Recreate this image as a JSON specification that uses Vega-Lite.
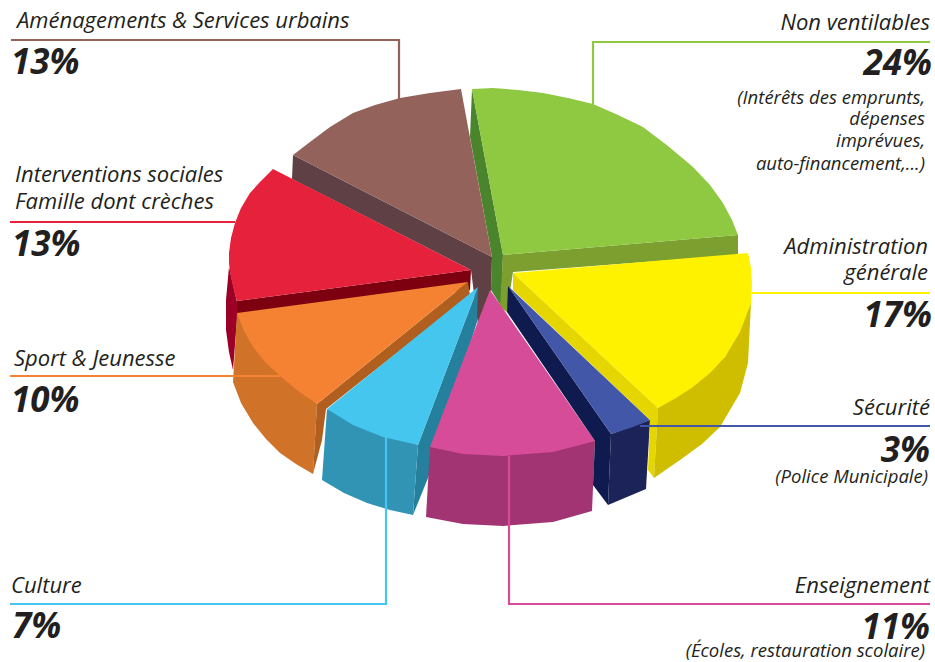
{"$schema":"https://vega.github.io/schema/vega-lite/v6.json","width":935,"height":662,"padding":0,"autosize":{"type":"none"},"background":"white","config":{"view":{"stroke":null}},
"datasets":{"faces":[
{"shape":"a1","n":0,"x":472,"y":89},{"shape":"a1","n":1,"x":470,"y":137},{"shape":"a1","n":2,"x":492,"y":257},{"shape":"a1","n":3,"x":491,"y":290},{"shape":"a1","n":4,"x":501,"y":306},{"shape":"a1","n":5,"x":503,"y":255},
{"shape":"a2","n":0,"x":503,"y":255},{"shape":"a2","n":1,"x":738,"y":235},{"shape":"a2","n":2,"x":738,"y":255},{"shape":"a2","n":3,"x":513,"y":272},{"shape":"a2","n":4,"x":507,"y":312},{"shape":"a2","n":5,"x":500,"y":307},
{"shape":"a3","n":0,"x":472,"y":89},{"shape":"a3","n":1,"x":493,"y":88},{"shape":"a3","n":2,"x":518,"y":90},{"shape":"a3","n":3,"x":543,"y":93},{"shape":"a3","n":4,"x":568,"y":98},{"shape":"a3","n":5,"x":593,"y":104},{"shape":"a3","n":6,"x":618,"y":115},{"shape":"a3","n":7,"x":643,"y":127},{"shape":"a3","n":8,"x":668,"y":146},{"shape":"a3","n":9,"x":693,"y":167},{"shape":"a3","n":10,"x":710,"y":185},{"shape":"a3","n":11,"x":723,"y":203},{"shape":"a3","n":12,"x":732,"y":220},{"shape":"a3","n":13,"x":738,"y":235},{"shape":"a3","n":14,"x":503,"y":255},
{"shape":"b1","n":0,"x":293,"y":155},{"shape":"b1","n":1,"x":292,"y":179},{"shape":"b1","n":2,"x":471,"y":270},{"shape":"b1","n":3,"x":478,"y":325},{"shape":"b1","n":4,"x":491,"y":290},{"shape":"b1","n":5,"x":492,"y":257},
{"shape":"b2","n":0,"x":492,"y":257},{"shape":"b2","n":1,"x":461,"y":89},{"shape":"b2","n":2,"x":430,"y":93},{"shape":"b2","n":3,"x":400,"y":98},{"shape":"b2","n":4,"x":375,"y":105},{"shape":"b2","n":5,"x":353,"y":113},{"shape":"b2","n":6,"x":330,"y":127},{"shape":"b2","n":7,"x":310,"y":142},{"shape":"b2","n":8,"x":293,"y":155},
{"shape":"c1","n":0,"x":229,"y":267},{"shape":"c1","n":1,"x":226,"y":300},{"shape":"c1","n":2,"x":226,"y":330},{"shape":"c1","n":3,"x":229,"y":352},{"shape":"c1","n":4,"x":233,"y":370},{"shape":"c1","n":5,"x":237,"y":320},{"shape":"c1","n":6,"x":237,"y":302},
{"shape":"c2","n":0,"x":237,"y":301},{"shape":"c2","n":1,"x":471,"y":270},{"shape":"c2","n":2,"x":470,"y":290},{"shape":"c2","n":3,"x":237,"y":314},
{"shape":"c3","n":0,"x":471,"y":270},{"shape":"c3","n":1,"x":273,"y":169},{"shape":"c3","n":2,"x":260,"y":182},{"shape":"c3","n":3,"x":250,"y":193},{"shape":"c3","n":4,"x":241,"y":208},{"shape":"c3","n":5,"x":235,"y":223},{"shape":"c3","n":6,"x":231,"y":238},{"shape":"c3","n":7,"x":229,"y":253},{"shape":"c3","n":8,"x":229,"y":263},{"shape":"c3","n":9,"x":230,"y":272},{"shape":"c3","n":10,"x":233,"y":287},{"shape":"c3","n":11,"x":237,"y":301},
{"shape":"d1","n":0,"x":237,"y":313},{"shape":"d1","n":1,"x":233,"y":382},{"shape":"d1","n":2,"x":241,"y":403},{"shape":"d1","n":3,"x":253,"y":423},{"shape":"d1","n":4,"x":266,"y":439},{"shape":"d1","n":5,"x":280,"y":453},{"shape":"d1","n":6,"x":296,"y":464},{"shape":"d1","n":7,"x":313,"y":474},{"shape":"d1","n":8,"x":317,"y":404},
{"shape":"d2","n":0,"x":468,"y":282},{"shape":"d2","n":1,"x":470,"y":295},{"shape":"d2","n":2,"x":326,"y":409},{"shape":"d2","n":3,"x":322,"y":440},{"shape":"d2","n":4,"x":313,"y":474},{"shape":"d2","n":5,"x":317,"y":404},
{"shape":"d3","n":0,"x":468,"y":282},{"shape":"d3","n":1,"x":237,"y":313},{"shape":"d3","n":2,"x":244,"y":331},{"shape":"d3","n":3,"x":253,"y":347},{"shape":"d3","n":4,"x":265,"y":362},{"shape":"d3","n":5,"x":280,"y":376},{"shape":"d3","n":6,"x":298,"y":391},{"shape":"d3","n":7,"x":317,"y":404},
{"shape":"e1","n":0,"x":478,"y":287},{"shape":"e1","n":1,"x":418,"y":445},{"shape":"e1","n":2,"x":413,"y":515},{"shape":"e1","n":3,"x":428,"y":478},{"shape":"e1","n":4,"x":477,"y":322},
{"shape":"e2","n":0,"x":327,"y":409},{"shape":"e2","n":1,"x":322,"y":480},{"shape":"e2","n":2,"x":344,"y":493},{"shape":"e2","n":3,"x":367,"y":503},{"shape":"e2","n":4,"x":390,"y":510},{"shape":"e2","n":5,"x":413,"y":515},{"shape":"e2","n":6,"x":418,"y":445},
{"shape":"e3","n":0,"x":478,"y":287},{"shape":"e3","n":1,"x":327,"y":409},{"shape":"e3","n":2,"x":353,"y":425},{"shape":"e3","n":3,"x":383,"y":437},{"shape":"e3","n":4,"x":418,"y":445},
{"shape":"f1","n":0,"x":430,"y":447},{"shape":"f1","n":1,"x":426,"y":517},{"shape":"f1","n":2,"x":463,"y":524},{"shape":"f1","n":3,"x":503,"y":526},{"shape":"f1","n":4,"x":553,"y":522},{"shape":"f1","n":5,"x":592,"y":511},{"shape":"f1","n":6,"x":595,"y":441},
{"shape":"f2","n":0,"x":490,"y":290},{"shape":"f2","n":1,"x":430,"y":447},{"shape":"f2","n":2,"x":463,"y":454},{"shape":"f2","n":3,"x":503,"y":456},{"shape":"f2","n":4,"x":553,"y":452},{"shape":"f2","n":5,"x":595,"y":441},
{"shape":"g1","n":0,"x":508,"y":286},{"shape":"g1","n":1,"x":611,"y":434},{"shape":"g1","n":2,"x":608,"y":505},{"shape":"g1","n":3,"x":593,"y":485},{"shape":"g1","n":4,"x":595,"y":441},{"shape":"g1","n":5,"x":507,"y":312},
{"shape":"g2","n":0,"x":611,"y":434},{"shape":"g2","n":1,"x":650,"y":420},{"shape":"g2","n":2,"x":646,"y":489},{"shape":"g2","n":3,"x":608,"y":505},
{"shape":"g3","n":0,"x":508,"y":286},{"shape":"g3","n":1,"x":650,"y":420},{"shape":"g3","n":2,"x":633,"y":427},{"shape":"g3","n":3,"x":611,"y":434},
{"shape":"h1","n":0,"x":513,"y":273},{"shape":"h1","n":1,"x":658,"y":408},{"shape":"h1","n":2,"x":654,"y":478},{"shape":"h1","n":3,"x":648,"y":470},{"shape":"h1","n":4,"x":650,"y":420},{"shape":"h1","n":5,"x":513,"y":290},
{"shape":"h2","n":0,"x":658,"y":408},{"shape":"h2","n":1,"x":654,"y":478},{"shape":"h2","n":2,"x":680,"y":460},{"shape":"h2","n":3,"x":702,"y":444},{"shape":"h2","n":4,"x":720,"y":427},{"shape":"h2","n":5,"x":740,"y":393},{"shape":"h2","n":6,"x":748,"y":363},{"shape":"h2","n":7,"x":751,"y":303},{"shape":"h2","n":8,"x":725,"y":357},
{"shape":"h3","n":0,"x":513,"y":273},{"shape":"h3","n":1,"x":748,"y":253},{"shape":"h3","n":2,"x":751,"y":268},{"shape":"h3","n":3,"x":752,"y":285},{"shape":"h3","n":4,"x":751,"y":303},{"shape":"h3","n":5,"x":740,"y":332},{"shape":"h3","n":6,"x":725,"y":357},{"shape":"h3","n":7,"x":710,"y":373},{"shape":"h3","n":8,"x":693,"y":387},{"shape":"h3","n":9,"x":676,"y":398},{"shape":"h3","n":10,"x":658,"y":408}
],
"leaders":[
{"line":"brown","n":0,"x":11,"y":40},{"line":"brown","n":1,"x":399,"y":40},{"line":"brown","n":2,"x":399,"y":99},
{"line":"green","n":0,"x":593,"y":104},{"line":"green","n":1,"x":593,"y":42},{"line":"green","n":2,"x":930,"y":42},
{"line":"yellow","n":0,"x":752,"y":293},{"line":"yellow","n":1,"x":930,"y":293},
{"line":"blue","n":0,"x":640,"y":426},{"line":"blue","n":1,"x":930,"y":426},
{"line":"magenta","n":0,"x":509,"y":456},{"line":"magenta","n":1,"x":509,"y":604},{"line":"magenta","n":2,"x":930,"y":604},
{"line":"cyan","n":0,"x":386,"y":437},{"line":"cyan","n":1,"x":386,"y":604},{"line":"cyan","n":2,"x":10,"y":604},
{"line":"orange","n":0,"x":10,"y":376},{"line":"orange","n":1,"x":280,"y":376},
{"line":"red","n":0,"x":10,"y":222},{"line":"red","n":1,"x":235,"y":222}
],
"labels":[
{"text":"Aménagements & Services urbains","x":17,"y":28,"side":"left","kind":"label"},
{"text":"13%","x":11,"y":74,"side":"left","kind":"pct"},
{"text":"Interventions sociales","x":15,"y":182,"side":"left","kind":"label"},
{"text":"Famille dont crèches","x":15,"y":209,"side":"left","kind":"label"},
{"text":"13%","x":12,"y":256,"side":"left","kind":"pct"},
{"text":"Sport & Jeunesse","x":14,"y":366,"side":"left","kind":"label"},
{"text":"10%","x":11,"y":412,"side":"left","kind":"pct"},
{"text":"Culture","x":11,"y":593,"side":"left","kind":"label"},
{"text":"7%","x":12,"y":638,"side":"left","kind":"pct"},
{"text":"Non ventilables","x":930,"y":30,"side":"right","kind":"label"},
{"text":"24%","x":932,"y":75,"side":"right","kind":"pct"},
{"text":"(Intérêts des emprunts,","x":925,"y":104,"side":"right","kind":"note"},
{"text":"dépenses","x":925,"y":125,"side":"right","kind":"note"},
{"text":"imprévues,","x":925,"y":147,"side":"right","kind":"note"},
{"text":"auto-financement,...)","x":925,"y":170,"side":"right","kind":"note"},
{"text":"Administration","x":928,"y":254,"side":"right","kind":"label"},
{"text":"générale","x":928,"y":280,"side":"right","kind":"label"},
{"text":"17%","x":932,"y":327,"side":"right","kind":"pct"},
{"text":"Sécurité","x":930,"y":415,"side":"right","kind":"label"},
{"text":"3%","x":930,"y":462,"side":"right","kind":"pct"},
{"text":"(Police Municipale)","x":928,"y":483,"side":"right","kind":"note"},
{"text":"Enseignement","x":930,"y":593,"side":"right","kind":"label"},
{"text":"11%","x":930,"y":639,"side":"right","kind":"pct"},
{"text":"(Écoles, restauration scolaire)","x":925,"y":657,"side":"right","kind":"note"}
]},
"resolve":{"scale":{"color":"independent"}},
"layer":[
{"data":{"name":"faces"},"mark":{"type":"line","filled":true,"interpolate":"linear-closed","strokeWidth":0},
"encoding":{"x":{"field":"x","type":"quantitative","scale":{"domain":[0,935]},"axis":null},"y":{"field":"y","type":"quantitative","scale":{"domain":[662,0]},"axis":null},"order":{"field":"n","type":"quantitative"},
"color":{"field":"shape","type":"nominal","legend":null,"scale":{"domain":["a1","a2","a3","b1","b2","c1","c2","c3","d1","d2","d3","e1","e2","e3","f1","f2","g1","g2","g3","h1","h2","h3"],"range":["#4a852d","#7c9f30","#8fc841","#5f4045","#93625a","#9c0026","#7d0010","#e6213c","#d07228","#b05f1f","#f58233","#24809c","#3294b5","#45c6ee","#a33473","#d64c99","#0f1a4e","#1c2359","#4357a8","#e5d500","#cfbe00","#fff200"]}}}},
{"data":{"name":"leaders"},"mark":{"type":"line","strokeWidth":2.2,"interpolate":"linear"},
"encoding":{"x":{"field":"x","type":"quantitative","scale":{"domain":[0,935]},"axis":null},"y":{"field":"y","type":"quantitative","scale":{"domain":[662,0]},"axis":null},"order":{"field":"n","type":"quantitative"},
"color":{"field":"line","type":"nominal","legend":null,"scale":{"domain":["brown","green","yellow","blue","magenta","cyan","orange","red"],"range":["#93625a","#8fc841","#fff200","#4357a8","#d64c99","#45c6ee","#f58233","#e6213c"]}}}},
{"data":{"name":"labels"},"transform":[{"filter":"datum.side=='left' && datum.kind=='label'"}],"mark":{"type":"text","align":"left","baseline":"alphabetic","font":"Open Sans","fontStyle":"italic","fontSize":22,"color":"#231f20"},
"encoding":{"x":{"field":"x","type":"quantitative","scale":{"domain":[0,935]},"axis":null},"y":{"field":"y","type":"quantitative","scale":{"domain":[662,0]},"axis":null},"text":{"field":"text"}}},
{"data":{"name":"labels"},"transform":[{"filter":"datum.side=='right' && datum.kind=='label'"}],"mark":{"type":"text","align":"right","baseline":"alphabetic","font":"Open Sans","fontStyle":"italic","fontSize":22,"color":"#231f20"},
"encoding":{"x":{"field":"x","type":"quantitative","scale":{"domain":[0,935]},"axis":null},"y":{"field":"y","type":"quantitative","scale":{"domain":[662,0]},"axis":null},"text":{"field":"text"}}},
{"data":{"name":"labels"},"transform":[{"filter":"datum.side=='left' && datum.kind=='pct'"}],"mark":{"type":"text","align":"left","baseline":"alphabetic","font":"Open Sans","fontStyle":"italic","fontWeight":"bold","fontSize":35,"color":"#231f20"},
"encoding":{"x":{"field":"x","type":"quantitative","scale":{"domain":[0,935]},"axis":null},"y":{"field":"y","type":"quantitative","scale":{"domain":[662,0]},"axis":null},"text":{"field":"text"}}},
{"data":{"name":"labels"},"transform":[{"filter":"datum.side=='right' && datum.kind=='pct'"}],"mark":{"type":"text","align":"right","baseline":"alphabetic","font":"Open Sans","fontStyle":"italic","fontWeight":"bold","fontSize":35,"color":"#231f20"},
"encoding":{"x":{"field":"x","type":"quantitative","scale":{"domain":[0,935]},"axis":null},"y":{"field":"y","type":"quantitative","scale":{"domain":[662,0]},"axis":null},"text":{"field":"text"}}},
{"data":{"name":"labels"},"transform":[{"filter":"datum.kind=='note'"}],"mark":{"type":"text","align":"right","baseline":"alphabetic","font":"Open Sans","fontStyle":"italic","fontSize":18.5,"color":"#231f20"},
"encoding":{"x":{"field":"x","type":"quantitative","scale":{"domain":[0,935]},"axis":null},"y":{"field":"y","type":"quantitative","scale":{"domain":[662,0]},"axis":null},"text":{"field":"text"}}}
]}
